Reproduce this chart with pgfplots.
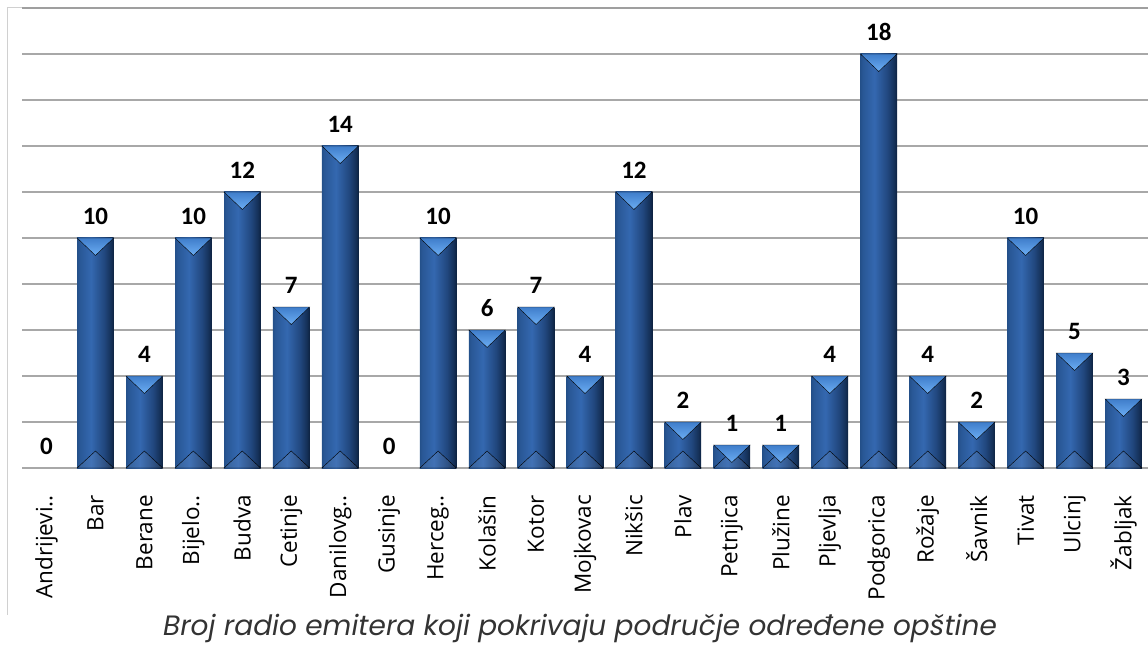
\documentclass[border=0pt]{standalone}
\usepackage{pgfplots}
\usepackage{pgfplotstable}
\pgfplotsset{compat=1.18}
\usepackage{fontspec}
\setmainfont{Open Sans}
\newfontfamily\labfont{Open Sans}
\newfontfamily\carlito{Carlito}
\newfontfamily\popfont{Poppins}
\definecolor{barL}{HTML}{24508A}
\definecolor{barM}{HTML}{3468B0}
\definecolor{barR2}{HTML}{21477E}
\definecolor{barR}{HTML}{0D2240}
\definecolor{triTop}{HTML}{3F7DCA}
\definecolor{triBot}{HTML}{6CAEF4}
\definecolor{gridgray}{HTML}{A8A8A8}
\definecolor{framegray}{HTML}{D0D0D0}
\definecolor{capgray}{HTML}{333333}
\pgfdeclarehorizontalshading{barshade}{100bp}{color(0bp)=(barL); color(25bp)=(barL); color(28bp)=(barL!70!barM); color(44bp)=(barM); color(62bp)=(barR2); color(71bp)=(barR!60!barR2); color(75bp)=(barR); color(100bp)=(barR)}
\pgfdeclareplotmark{bevtop}{\path[top color=triTop, bottom color=triBot] (-18.3pt,0pt) -- (18.3pt,0pt) -- (0pt,-17.5pt) -- cycle;}
\pgfdeclareplotmark{bevbot}{\path[fill=white, fill opacity=0.07] (-18.3pt,0pt) -- (18.3pt,0pt) -- (0pt,17pt) -- cycle;}
\pgfplotstableread{
x v
0 0
1 10
2 4
3 10
4 12
5 7
6 14
7 0
8 10
9 6
10 7
11 4
12 12
13 2
14 1
15 1
16 4
17 18
18 4
19 2
20 10
21 5
22 3
}\datatab
\begin{document}
\begin{tikzpicture}
\path[use as bounding box] (-22pt,-177pt) rectangle (1126pt,468pt);
\begin{axis}[
  scale only axis, width=1126pt, height=460pt,
  xmin=-0.5, xmax=22.5, ymin=0, ymax=20,
  ytick={0,2,...,20}, yticklabels={},
  ymajorgrids, major grid style={draw=gridgray, line width=1.3pt},
  axis line style={draw=none}, major tick length=0pt,
  xtick={0,...,22},
  xticklabels={Andrijevi..,Bar,Berane,Bijelo..,Budva,Cetinje,Danilovg..,Gusinje,Herceg..,Kolašin,Kotor,Mojkovac,Nikšic,Plav,Petnjica,Plužine,Pljevlja,Podgorica,Rožaje,Šavnik,Tivat,Ulcinj,Žabljak},
  xticklabel style={rotate=90, anchor=east, inner sep=0pt, font=\labfont\fontsize{22.5}{22.5}\selectfont, text=black},
  xticklabel shift=27pt,
  /pgf/number format/assume math mode=true,
  clip=false,
]
\pgfplotsinvokeforeach{1,2,3,4,5,6,8,9,10,11,12,13,14,15,16,17,18,19,20,21,22}{
\addplot[ybar, bar shift=0pt, bar width=36.6pt, draw=none, shading=barshade,
  x filter/.expression={abs(x-#1)<0.1 ? x : nan}]
  table[x=x,y=v]{\datatab};
}
\addplot[only marks, mark=bevbot, restrict y to domain=-1:1] table[x=x, y expr={(\thisrow{v}>0) ? 0 : -5}]{\datatab};
\addplot[only marks, mark=bevtop, restrict y to domain=0.5:100] table[x=x,y=v]{\datatab};
\addplot[draw=none, mark=none, nodes near coords,
  every node near coord/.append style={font=\carlito\bfseries\fontsize{25}{25}\selectfont, anchor=south, inner sep=0pt, yshift=13pt, text=black}]
  table[x=x,y=v]{\datatab};
\end{axis}
\draw[gray!75, line width=1.6pt] (0pt,460pt) -- (1126pt,460pt);
\draw[framegray, line width=1pt] (-15pt,460pt) -- (-15pt,-147pt);
\draw[framegray, line width=1pt] (-15pt,460pt) -- (0pt,460pt);
\node[font=\popfont\itshape\fontsize{28}{28}\selectfont, text=capgray, anchor=base] at (558pt,-167pt) {Broj radio emitera koji pokrivaju područje određene opštine};
\end{tikzpicture}
\end{document}
